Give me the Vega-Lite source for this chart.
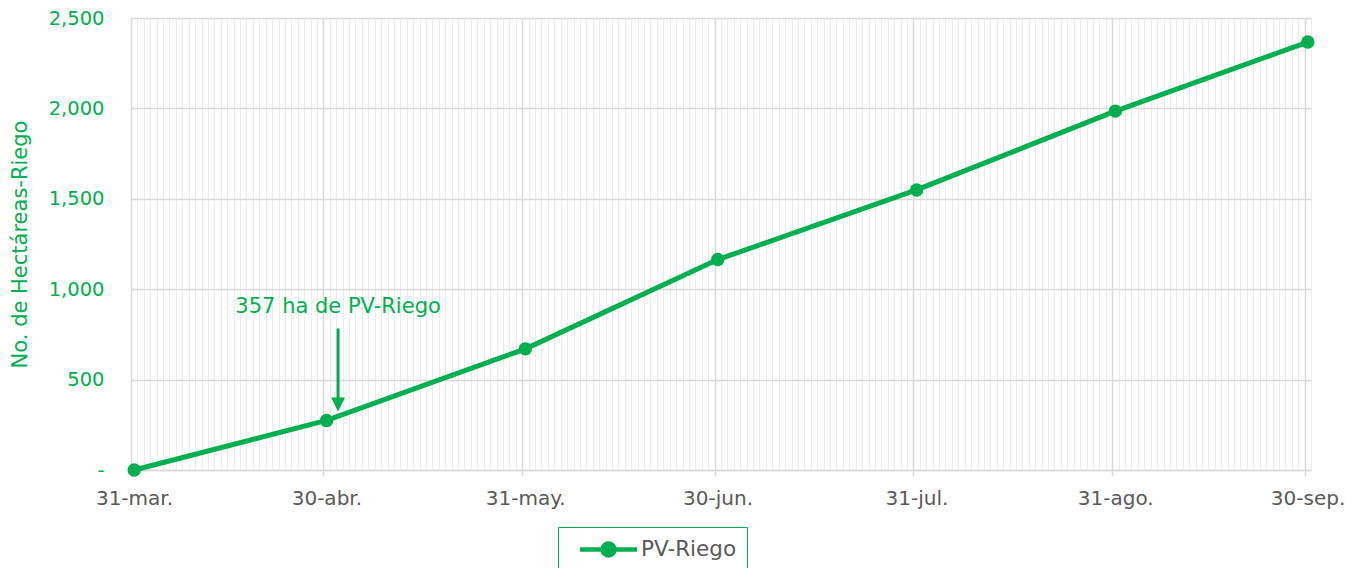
{
  "$schema": "https://vega.github.io/schema/vega-lite/v6.json",
  "autosize": {"type": "none"},
  "padding": {"left": 131, "top": 18, "right": 40, "bottom": 98},
  "width": 1180,
  "height": 452,
  "background": "white",
  "config": {"view": {"stroke": null}, "font": "DejaVu Sans"},
  "datasets": {
    "serie": [
      {"fecha": "2024-03-31T12:00:00", "valor": 0, "serie": "PV-Riego"},
      {"fecha": "2024-04-30T12:00:00", "valor": 274, "serie": "PV-Riego"},
      {"fecha": "2024-05-31T12:00:00", "valor": 670, "serie": "PV-Riego"},
      {"fecha": "2024-06-30T12:00:00", "valor": 1164, "serie": "PV-Riego"},
      {"fecha": "2024-07-31T12:00:00", "valor": 1549, "serie": "PV-Riego"},
      {"fecha": "2024-08-31T12:00:00", "valor": 1985, "serie": "PV-Riego"},
      {"fecha": "2024-09-30T12:00:00", "valor": 2367, "serie": "PV-Riego"}
    ],
    "flecha": [{"fecha": "2024-05-02T07:00:00", "valor": 783, "valor2": 395}],
    "punta": [{"fecha": "2024-05-02T07:00:00", "valor": 362}],
    "nota": [{"fecha": "2024-05-02T07:00:00", "valor": 902, "texto": "357 ha de PV-Riego"}]
  },
  "encoding": {
    "y": {
      "field": "valor",
      "type": "quantitative",
      "scale": {"domain": [0, 2500], "nice": false, "zero": true},
      "axis": {
        "values": [0, 500, 1000, 1500, 2000, 2500],
        "labelExpr": "datum.value == 0 ? '-' : format(datum.value, ',')",
        "labelColor": "#00B050",
        "labelFontSize": 19.5,
        "labelFont": "DejaVu Sans",
        "labelPadding": 27,
        "ticks": false,
        "domain": false,
        "grid": true,
        "gridColor": "#d9d9d9",
        "gridWidth": 1.5,
        "title": "No. de Hectáreas-Riego",
        "titleColor": "#00B050",
        "titleFontSize": 21,
        "titleFont": "DejaVu Sans",
        "titleFontWeight": "normal",
        "titlePadding": 18
      }
    }
  },
  "layer": [
    {
      "data": {"name": "serie"},
      "mark": {"type": "line", "strokeWidth": 5},
      "encoding": {
        "x": {
          "field": "fecha",
          "type": "temporal",
          "scale": {"domain": [{"year": 2024, "month": 3, "date": 31}, {"year": 2024, "month": 10, "date": 1}], "nice": false},
          "axis": {
            "orient": "bottom",
            "tickCount": {"interval": "day", "step": 1},
            "grid": true,
            "gridColor": "#ececec",
            "gridWidth": 1,
            "labels": false,
            "ticks": false,
            "domain": false,
            "title": null
          }
        },
        "color": {
          "field": "serie",
          "type": "nominal",
          "scale": {"range": ["#00B050"]},
          "legend": {
            "orient": "none",
            "legendX": 427,
            "legendY": 509,
            "title": null,
            "symbolType": "M-2.85,0H2.85M0.6,0A0.6,0.6,0,1,1,-0.6,0A0.6,0.6,0,1,1,0.6,0",
            "symbolSize": 400,
            "symbolStrokeWidth": 4.5,
            "symbolFillColor": "#00B050",
            "symbolStrokeColor": "#00B050",
            "symbolOffset": 28,
            "labelOffset": 20,
            "labelFontSize": 21.5,
            "labelColor": "#595959",
            "labelFont": "DejaVu Sans",
            "padding": 10,
            "strokeColor": "#00B050",
            "fillColor": "white"
          }
        }
      }
    },
    {
      "data": {"name": "serie"},
      "mark": {"type": "point", "filled": true, "size": 180, "opacity": 1, "color": "#00B050"},
      "encoding": {
        "x": {
          "field": "fecha",
          "type": "temporal",
          "axis": {
            "orient": "bottom",
            "values": [
              {"year": 2024, "month": 3, "date": 31},
              {"year": 2024, "month": 4, "date": 30},
              {"year": 2024, "month": 5, "date": 31},
              {"year": 2024, "month": 6, "date": 30},
              {"year": 2024, "month": 7, "date": 31},
              {"year": 2024, "month": 8, "date": 31},
              {"year": 2024, "month": 9, "date": 30}
            ],
            "labelExpr": "date(datum.value) + '-' + ['ene.','feb.','mar.','abr.','may.','jun.','jul.','ago.','sep.','oct.','nov.','dic.'][month(datum.value)]",
            "labelOffset": 3,
            "labelFlush": false,
            "labelOverlap": false,
            "labelBound": false,
            "labelColor": "#595959",
            "labelFontSize": 20,
            "labelFont": "DejaVu Sans",
            "labelPadding": 12,
            "ticks": true,
            "tickSize": 6,
            "tickColor": "#d9d9d9",
            "tickWidth": 1.5,
            "grid": true,
            "gridColor": "#d9d9d9",
            "gridWidth": 1.5,
            "domain": true,
            "domainColor": "#d9d9d9",
            "domainWidth": 1.5,
            "title": null
          }
        }
      }
    },
    {
      "data": {"name": "flecha"},
      "mark": {"type": "rule", "color": "#00B050", "strokeWidth": 3},
      "encoding": {
        "x": {"field": "fecha", "type": "temporal", "axis": null},
        "y2": {"field": "valor2"}
      }
    },
    {
      "data": {"name": "punta"},
      "mark": {"type": "point", "shape": "M-1,-1L1,-1L0,1Z", "filled": true, "size": 196, "opacity": 1, "color": "#00B050"},
      "encoding": {
        "x": {"field": "fecha", "type": "temporal", "axis": null}
      }
    },
    {
      "data": {"name": "nota"},
      "mark": {"type": "text", "color": "#00B050", "fontSize": 21, "font": "DejaVu Sans", "align": "center", "baseline": "middle"},
      "encoding": {
        "x": {"field": "fecha", "type": "temporal", "axis": null},
        "text": {"field": "texto"}
      }
    }
  ],
  "resolve": {"axis": {"x": "independent"}}
}
